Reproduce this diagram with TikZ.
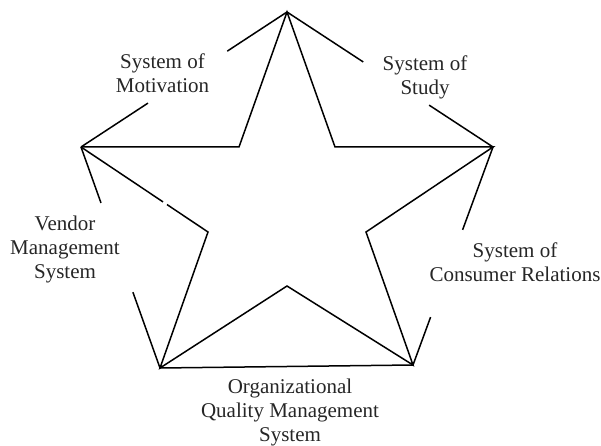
\documentclass[tikz,border=0pt]{standalone}
\usepackage{fontspec}
\setmainfont{Liberation Serif}
\usetikzlibrary{calc}
\begin{document}
\begin{tikzpicture}[x=1pt,y=-1pt,
  edge/.style={line width=1.5pt,black},
  lbl/.style={align=center,inner sep=0pt,font=\fontsize{21}{24}\selectfont,text=black!85}]
\useasboundingbox (0,0) rectangle (601,446);
% outer vertices
\coordinate (T) at (287,12);
\coordinate (L) at (81,147);
\coordinate (R) at (493,147);
\coordinate (BL) at (160,368);
\coordinate (BR) at (413,365);
% inner vertices
\coordinate (UL) at (239,147);
\coordinate (UR) at (335,147);
\coordinate (LI) at (208,232);
\coordinate (RI) at (366,232);
\coordinate (BI) at (287,286);
% star
\draw[edge] (L) -- (UL) -- (T) -- (UR) -- (R) -- (RI) -- (BR) -- (BI) -- (BL) -- (LI) -- ($(L)!0.677!(LI)$);
\draw[edge] (L) -- ($(L)!0.646!(LI)$);
% outer pentagon with gaps
\draw[edge] (T) -- ($(T)!0.29!(L)$);
\draw[edge] ($(T)!0.675!(L)$) -- (L);
\draw[edge] (T) -- ($(T)!0.37!(R)$);
\draw[edge] ($(T)!0.69!(R)$) -- (R);
\draw[edge] (L) -- ($(L)!0.253!(BL)$);
\draw[edge] ($(L)!0.657!(BL)$) -- (BL);
\draw[edge] (R) -- ($(R)!0.38!(BR)$);
\draw[edge] ($(R)!0.78!(BR)$) -- (BR);
\draw[edge] (BL) -- (BR);
% labels
\node[lbl] (mot) at (162.5,73) {System of\\Motivation};
\node[lbl] (stu) at (425,77) {System of\\Study};
\node[lbl] (ven) at (65,249) {Vendor\\Management\\System};
\node[lbl] (con) at (515,262) {System of\\Consumer Relations};
\node[lbl] (org) at (290,412.5) {Organizational\\Quality Management\\System};
\end{tikzpicture}
\end{document}
